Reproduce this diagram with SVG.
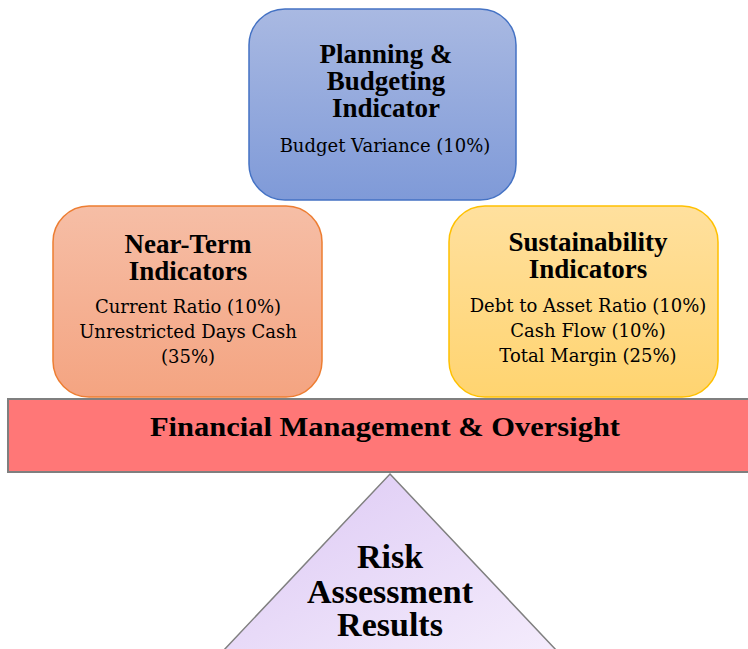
<svg xmlns="http://www.w3.org/2000/svg" width="748" height="649" viewBox="0 0 748 649">
<defs>
<linearGradient id="gBlue" x1="0" y1="0" x2="0" y2="1"><stop offset="0" stop-color="#a9b9e2"/><stop offset="1" stop-color="#7f9ad8"/></linearGradient>
<linearGradient id="gOrange" x1="0" y1="0" x2="0" y2="1"><stop offset="0" stop-color="#f6bea6"/><stop offset="1" stop-color="#f4a481"/></linearGradient>
<linearGradient id="gYellow" x1="0" y1="0" x2="0" y2="1"><stop offset="0" stop-color="#ffe09e"/><stop offset="1" stop-color="#ffd470"/></linearGradient>
<linearGradient id="gPurple" x1="0" y1="0" x2="1" y2="1"><stop offset="0" stop-color="#dcc8f4"/><stop offset="1" stop-color="#f4ecfc"/></linearGradient>
<style>
.t{font-family:"Liberation Serif","Times New Roman",serif;fill:#000;text-anchor:middle}
.h{font-weight:bold;font-size:27px}
.s{font-family:"DejaVu Serif","Liberation Serif",serif;font-size:18px}
.r{font-weight:bold;font-size:34px}
</style>
</defs>
<g id="planning">
<rect x="249" y="9" width="267" height="191" rx="36" fill="url(#gBlue)" stroke="#4472c4" stroke-width="1.5"/>
<text class="t h" x="386" y="63">Planning &amp;</text>
<text class="t h" x="386" y="90">Budgeting</text>
<text class="t h" x="386" y="117">Indicator</text>
<text class="t s" x="385" y="152">Budget Variance (10%)</text>
</g>
<g id="nearterm">
<rect x="53" y="206" width="269" height="191" rx="36" fill="url(#gOrange)" stroke="#ed7d31" stroke-width="1.5"/>
<text class="t h" x="188" y="253">Near-Term</text>
<text class="t h" x="188" y="280">Indicators</text>
<text class="t s" x="188" y="313">Current Ratio (10%)</text>
<text class="t s" x="188" y="338">Unrestricted Days Cash</text>
<text class="t s" x="188" y="363">(35%)</text>
</g>
<g id="sustainability">
<rect x="449" y="206" width="269" height="191" rx="36" fill="url(#gYellow)" stroke="#ffc000" stroke-width="1.5"/>
<text class="t h" x="588" y="251">Sustainability</text>
<text class="t h" x="588" y="278">Indicators</text>
<text class="t s" x="588" y="312">Debt to Asset Ratio (10%)</text>
<text class="t s" x="588" y="337">Cash Flow (10%)</text>
<text class="t s" x="588" y="362">Total Margin (25%)</text>
</g>
<g id="financial">
<rect x="8" y="399" width="750" height="73" fill="#ff7777" stroke="#7f7f7f" stroke-width="2"/>
<text class="t" x="385" y="436" font-weight="bold" font-size="28" textLength="470" lengthAdjust="spacingAndGlyphs">Financial Management &amp; Oversight</text>
</g>
<g id="risk">
<polygon points="390,474 557,651 223,651" fill="url(#gPurple)" stroke="#808080" stroke-width="1.5"/>
<text class="t r" x="390" y="568">Risk</text>
<text class="t r" x="390" y="603">Assessment</text>
<text class="t r" x="390" y="636">Results</text>
</g>
<g id="connectors"/>
</svg>
